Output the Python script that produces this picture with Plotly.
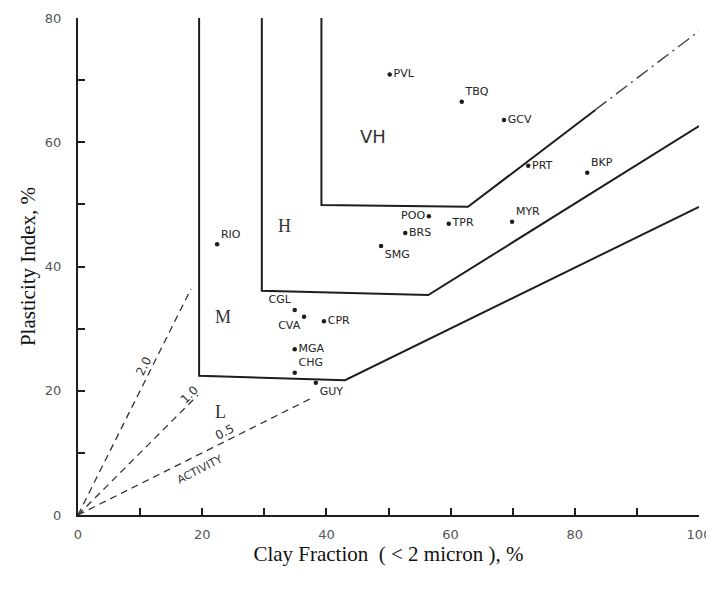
import plotly.graph_objects as go

# ---- soil samples (clay fraction %, plasticity index %) ----
names = ["PVL", "TBQ", "GCV", "PRT", "BKP", "MYR", "POO", "TPR", "BRS", "SMG",
         "RIO", "CGL", "CVA", "CPR", "MGA", "CHG", "GUY"]
clay = [50.2, 61.8, 68.6, 72.5, 82.0, 69.9, 56.5, 59.7, 52.7, 48.8,
        22.4, 34.9, 36.4, 39.6, 34.9, 34.9, 38.3]
pindex = [70.9, 66.5, 63.6, 56.2, 55.1, 47.2, 48.1, 46.9, 45.4, 43.3,
          43.6, 33.0, 31.9, 31.2, 26.7, 22.9, 21.3]
label_pos = ["middle right", "top right", "middle right", "middle right", "top right",
             "top right", "middle left", "middle right", "middle right", "bottom right",
             "top right", "top left", "bottom left", "middle right", "middle right",
             "top right", "bottom right"]

# ---- class boundaries ----
lm_x = [19.5, 19.5, 43.0, 100.0]
lm_y = [80.0, 22.4, 21.7, 49.6]
mh_x = [29.6, 29.6, 56.4, 100.0]
mh_y = [80.0, 36.1, 35.4, 62.6]
hvh_x = [39.2, 39.2, 62.8, 83.3]
hvh_y = [80.0, 49.9, 49.6, 65.2]
hvh_ext_x = [83.3, 100.0]
hvh_ext_y = [65.2, 77.9]

# ---- activity lines ----
activity = [2.0, 1.0, 0.5]
activity_end_clay = [18.2, 19.3, 37.6]
activity_labels = ["2.0", "1.0", "0.5"]
activity_label_x = [10.6, 17.9, 23.6]
activity_label_y = [24.0, 19.3, 13.4]
activity_label_angle = [-63, -45, -27]

# ---- zone labels ----
zone_names = ["L", "M", "H", "VH"]
zone_x = [22.9, 23.3, 33.3, 47.5]
zone_y = [16.6, 31.8, 46.5, 61.0]

x_ticks = [0, 20, 40, 60, 80, 100]
y_ticks = [0, 20, 40, 60, 80]

INK = "#1e1e1e"
fig = go.Figure()

for bx, by in [(lm_x, lm_y), (mh_x, mh_y), (hvh_x, hvh_y)]:
    fig.add_trace(go.Scatter(x=bx, y=by, mode="lines",
                             line=dict(color=INK, width=2), hoverinfo="skip",
                             showlegend=False))
fig.add_trace(go.Scatter(x=hvh_ext_x, y=hvh_ext_y, mode="lines",
                         line=dict(color="#444", width=1.5, dash="14px,5px,2px,5px"),
                         hoverinfo="skip", showlegend=False))

for a, xe in zip(activity, activity_end_clay):
    fig.add_trace(go.Scatter(x=[0, xe], y=[0, a * xe], mode="lines",
                             line=dict(color="#333", width=1.3, dash="7px,5px"),
                             hoverinfo="skip", showlegend=False))

fig.add_trace(go.Scatter(x=clay, y=pindex, mode="markers+text", text=names,
                         textposition=label_pos,
                         textfont=dict(family="DejaVu Sans", size=11, color="#222"),
                         marker=dict(color=INK, size=4.5),
                         showlegend=False))

for t, x, y, ang in zip(activity_labels, activity_label_x, activity_label_y, activity_label_angle):
    fig.add_annotation(x=x, y=y, text=t, showarrow=False, textangle=ang,
                       font=dict(family="DejaVu Sans", size=12, color="#333"))
fig.add_annotation(x=19.6, y=7.4, text="ACTIVITY", showarrow=False, textangle=-27,
                   font=dict(family="DejaVu Sans", size=11, color="#333"))

for z, x, y in zip(zone_names, zone_x, zone_y):
    fam = "DejaVu Sans" if z == "VH" else "Liberation Serif"
    fig.add_annotation(x=x, y=y, text=z, showarrow=False,
                       font=dict(family=fam, size=18, color="#333"))

# page body has an 8px default margin, so the figure is sized/offset for it
fig.update_layout(
    width=706, height=582, autosize=False,
    margin=dict(l=70, r=15, t=10, b=75),
    plot_bgcolor="white", paper_bgcolor="white",
    showlegend=False,
)
fig.update_xaxes(range=[0, 100], tickvals=x_ticks, ticktext=[str(v) for v in x_ticks],
                 automargin=False,
                 showgrid=False, zeroline=False, showline=True, linecolor=INK, linewidth=2,
                 ticks="inside", ticklen=7, tickcolor=INK, tickwidth=1.5,
                 minor=dict(ticks="inside", dtick=10, ticklen=7, tickcolor=INK, tickwidth=1.5),
                 ticklabelstandoff=6,
                 tickfont=dict(family="DejaVu Sans", size=13, color="#555"),
                 title=dict(text="Clay Fraction  ( < 2 micron ), %", standoff=5,
                            font=dict(family="Liberation Serif", size=21, color="#111")))
fig.update_yaxes(range=[0, 80], tickvals=y_ticks, ticktext=[str(v) for v in y_ticks],
                 automargin=False,
                 showgrid=False, zeroline=False, showline=True, linecolor=INK, linewidth=2,
                 ticks="inside", ticklen=7, tickcolor=INK, tickwidth=1.5,
                 minor=dict(ticks="inside", dtick=10, ticklen=7, tickcolor=INK, tickwidth=1.5),
                 ticklabelstandoff=12,
                 tickfont=dict(family="DejaVu Sans", size=13, color="#555"),
                 title=dict(text="Plasticity Index, %", standoff=4,
                            font=dict(family="Liberation Serif", size=21, color="#111")))

fig.write_html("out.html")
